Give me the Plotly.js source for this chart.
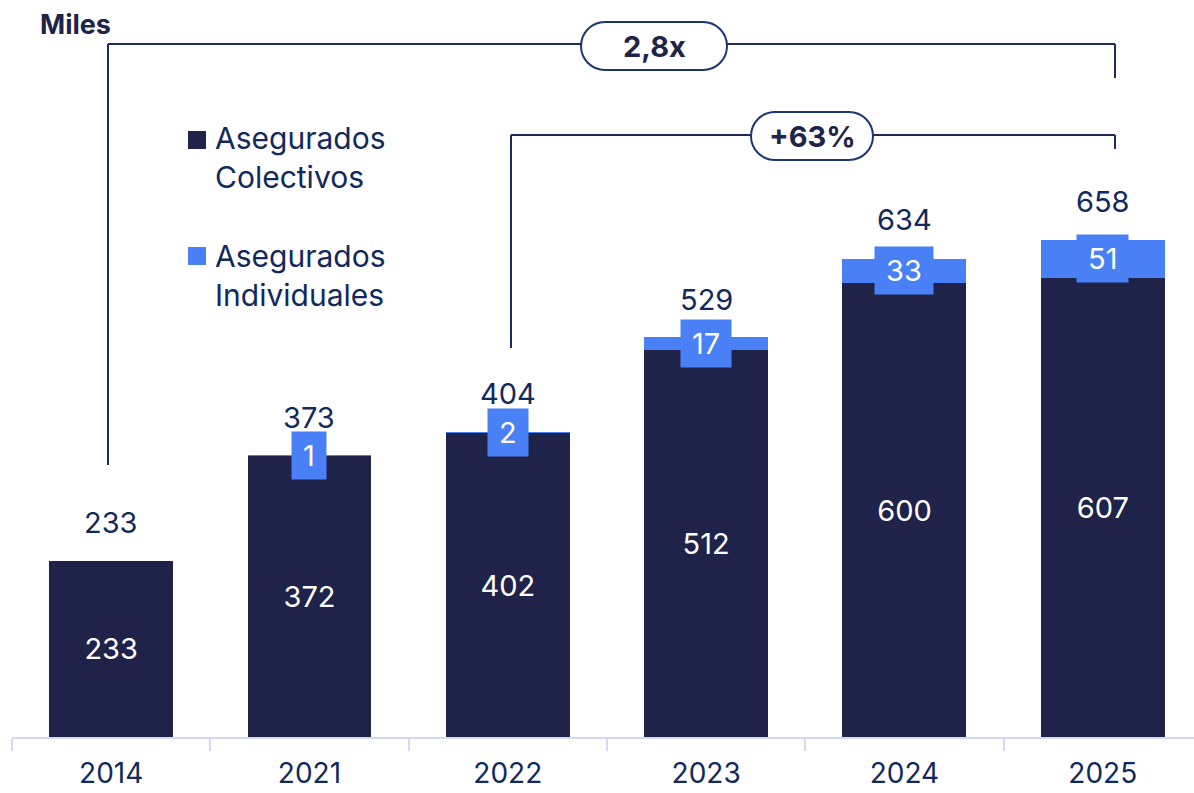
<!DOCTYPE html>
<html>
<head>
<meta charset="utf-8">
<script src="https://cdn.plot.ly/plotly-3.0.1.min.js"></script>
<style>
  html, body { margin: 0; padding: 0; background: #ffffff; }
  #chart { width: 1194px; height: 793px; }
</style>
</head>
<body>
<div id="chart"></div>
<script>
// ---- data ----
const years = ['2014', '2021', '2022', '2023', '2024', '2025'];
const colectivos = [233, 372, 402, 512, 600, 607];
const individuales = [null, 1, 2, 17, 33, 51];
const totals = [233, 373, 404, 529, 634, 658];
const seriesNames = ['Asegurados<br>Colectivos', 'Asegurados<br>Individuales'];
const unitLabel = 'Miles';
const growthLabels = ['2,8x', '+63%'];

// ---- style ----
const DARK = '#1f2349';
const BLUE = '#4a80f6';
const NAVY = '#11295c';
const LINE = '#1e2a57';
const PILL = '#1a3570';
const AXIS = '#d3d9ef';
const FONT = 'Inter, "Noto Sans", sans-serif';

// plot area geometry (pixels)
const L = 12, T = 0, W = 1182, H = 737;
const px = v => (v - L) / W;
const py = v => (T + H - v) / H;

const traces = [
  {
    type: 'bar', x: years, y: colectivos, name: seriesNames[0],
    marker: { color: DARK, line: { width: 0 } },
    text: colectivos.map(String), textposition: 'inside', insidetextanchor: 'middle',
    textangle: 0, textfont: { color: '#ffffff', size: 29, family: FONT },
    width: 0.625, hoverinfo: 'skip', showlegend: false
  },
  {
    type: 'bar', x: years, y: individuales, name: seriesNames[1],
    marker: { color: BLUE, line: { width: 0 } },
    textposition: 'none',
    width: 0.625, hoverinfo: 'skip', showlegend: false
  }
];

const annotations = [];
// totals above bars (x given as category index)
years.forEach((yr, i) => {
  annotations.push({
    x: i, y: totals[i], xref: 'x', yref: 'y', yshift: 38,
    text: String(totals[i]), showarrow: false,
    font: { size: 29, color: NAVY, family: FONT }, xanchor: 'center', yanchor: 'middle'
  });
});
// individual labels on blue segment
years.forEach((yr, i) => {
  if (individuales[i] == null) return;
  annotations.push({
    x: i, y: colectivos[i] + individuales[i] / 2, xref: 'x', yref: 'y',
    text: String(individuales[i]), showarrow: false,
    font: { size: 29, color: '#ffffff', family: FONT },
    bgcolor: BLUE, borderpad: 11, height: 25,
    xanchor: 'center', yanchor: 'middle'
  });
});
// unit label
annotations.push({
  xref: 'paper', yref: 'paper', x: px(38), y: py(25), xanchor: 'left', yanchor: 'middle',
  text: '<b>' + unitLabel + '</b>', showarrow: false,
  font: { size: 27, color: DARK, family: FONT }
});
// legend texts
annotations.push({
  xref: 'paper', yref: 'paper', x: px(213), y: py(157), xanchor: 'left', yanchor: 'middle',
  align: 'left', text: seriesNames[0], showarrow: false,
  font: { size: 30, color: NAVY, family: FONT }
});
annotations.push({
  xref: 'paper', yref: 'paper', x: px(213), y: py(275), xanchor: 'left', yanchor: 'middle',
  align: 'left', text: seriesNames[1], showarrow: false,
  font: { size: 30, color: NAVY, family: FONT }
});
// growth labels
annotations.push({
  xref: 'paper', yref: 'paper', x: px(654), y: py(46), xanchor: 'center', yanchor: 'middle',
  text: '<b>' + growthLabels[0] + '</b>', showarrow: false,
  font: { size: 29, color: DARK, family: FONT }
});
annotations.push({
  xref: 'paper', yref: 'paper', x: px(812), y: py(136), xanchor: 'center', yanchor: 'middle',
  text: '<b>' + growthLabels[1] + '</b>', showarrow: false,
  font: { size: 29, color: DARK, family: FONT }
});

function lineShape(x0, y0, x1, y1) {
  return {
    type: 'line', xref: 'paper', yref: 'paper',
    x0: px(x0), y0: py(y0), x1: px(x1), y1: py(y1),
    line: { color: LINE, width: 2 }, layer: 'above'
  };
}
function pillShape(cx, cy, hw, hh) {
  const k = 0.5523 * hh;
  const P = (x, y) => px(cx + x) + ',' + py(cy + y);
  const path =
    'M' + P(-hw + hh, -hh) +
    ' L' + P(hw - hh, -hh) +
    ' C' + P(hw - hh + k, -hh) + ' ' + P(hw, -k) + ' ' + P(hw, 0) +
    ' C' + P(hw, k) + ' ' + P(hw - hh + k, hh) + ' ' + P(hw - hh, hh) +
    ' L' + P(-hw + hh, hh) +
    ' C' + P(-hw + hh - k, hh) + ' ' + P(-hw, k) + ' ' + P(-hw, 0) +
    ' C' + P(-hw, -k) + ' ' + P(-hw + hh - k, -hh) + ' ' + P(-hw + hh, -hh) + ' Z';
  return {
    type: 'path', xref: 'paper', yref: 'paper', path: path,
    fillcolor: '#ffffff', line: { color: PILL, width: 2 }, layer: 'above'
  };
}
function squareShape(x0, y0, size, color) {
  return {
    type: 'rect', xref: 'paper', yref: 'paper',
    x0: px(x0), x1: px(x0 + size), y0: py(y0), y1: py(y0 + size),
    fillcolor: color, line: { width: 0 }, layer: 'above'
  };
}

const shapes = [
  // 2,8x bracket
  lineShape(108, 44, 1115, 44),
  lineShape(108, 44, 108, 465),
  lineShape(1115, 44, 1115, 78),
  // +63% bracket
  lineShape(511, 135, 1115, 135),
  lineShape(511, 135, 511, 348),
  lineShape(1115, 135, 1115, 149),
  pillShape(654, 46, 73, 24),
  pillShape(812, 136, 61, 24),
  squareShape(188, 131, 18, DARK),
  squareShape(188, 247, 18, BLUE)
];

const layout = {
  width: 1194, height: 793,
  margin: { l: L, r: 1194 - L - W, t: T, b: 793 - T - H, pad: 0 },
  paper_bgcolor: '#ffffff', plot_bgcolor: '#ffffff',
  barmode: 'stack', bargap: 0.375,
  showlegend: false, hovermode: false,
  font: { family: FONT, color: NAVY },
  xaxis: {
    type: 'category', range: [-0.5, 5.46], fixedrange: true,
    showline: true, linecolor: AXIS, linewidth: 2,
    ticks: 'outside', tickson: 'boundaries', ticklen: 12, tickwidth: 2, tickcolor: AXIS,
    tickfont: { size: 28, color: NAVY, family: FONT },
    ticklabelstandoff: 10,
    showgrid: false, zeroline: false
  },
  yaxis: {
    range: [0, 975], visible: false, fixedrange: true,
    showgrid: false, zeroline: false
  },
  annotations: annotations,
  shapes: shapes
};

Plotly.newPlot('chart', traces, layout, { displayModeBar: false, staticPlot: true });
</script>
</body>
</html>
